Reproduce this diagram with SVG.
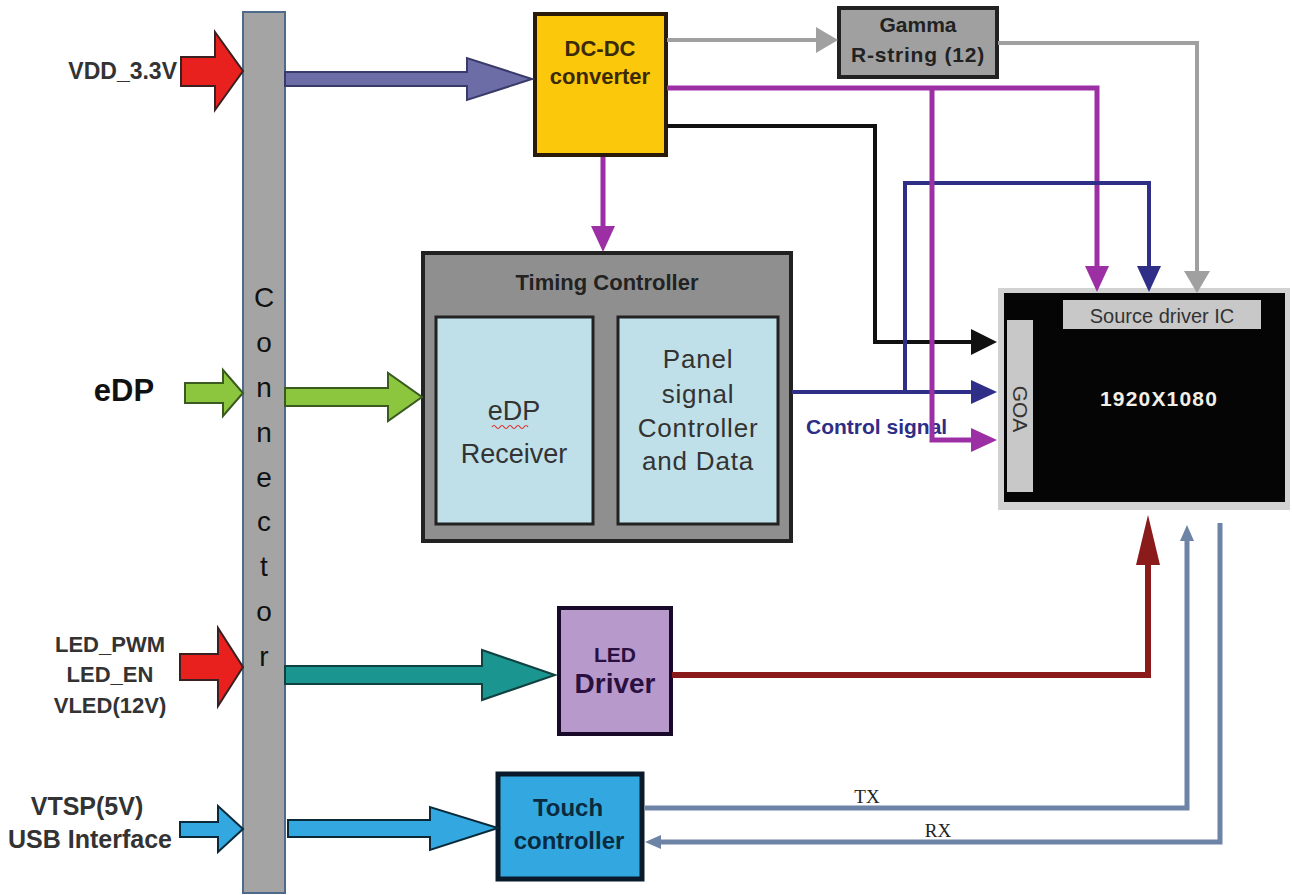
<svg xmlns="http://www.w3.org/2000/svg" width="1292" height="895" viewBox="0 0 1292 895">
<style>
text{font-family:"Liberation Sans",Arial,sans-serif}
.lbl{font-weight:bold;fill:#333;text-anchor:end}
.ctr{text-anchor:middle}
.b{font-weight:bold}
.conn{font-size:28px;fill:#111;text-anchor:middle}
.ln{fill:none;stroke-linejoin:miter}
.blk{stroke-width:2;stroke-linejoin:miter}
.serif{font-family:"Liberation Serif","Times New Roman",serif}
</style>
<defs>
<marker id="aGray" markerUnits="userSpaceOnUse" markerWidth="24" markerHeight="28" refX="2" refY="13" orient="auto"><path d="M0,0 L22,13 L0,26 z" fill="#a0a0a0"/></marker>
<marker id="aPurple" markerUnits="userSpaceOnUse" markerWidth="28" markerHeight="26" refX="2" refY="12" orient="auto"><path d="M0,0 L26,12 L0,24 z" fill="#9d2fa5"/></marker>
<marker id="aBlue" markerUnits="userSpaceOnUse" markerWidth="28" markerHeight="26" refX="2" refY="12" orient="auto"><path d="M0,0 L26,12 L0,24 z" fill="#2f2f88"/></marker>
<marker id="aBlack" markerUnits="userSpaceOnUse" markerWidth="28" markerHeight="28" refX="2" refY="13" orient="auto"><path d="M0,0 L26,13 L0,26 z" fill="#111"/></marker>
<marker id="aRed" markerUnits="userSpaceOnUse" markerWidth="52" markerHeight="26" refX="2" refY="12" orient="auto"><path d="M0,0 L50,12 L0,24 z" fill="#8b1a1a"/></marker>
<marker id="aSteel" markerUnits="userSpaceOnUse" markerWidth="18" markerHeight="16" refX="2" refY="7" orient="auto"><path d="M0,0 L16,7 L0,14 z" fill="#6d84a6"/></marker>
</defs>
<rect width="1292" height="895" fill="#fff"/>

<g id="connector">
<rect x="243" y="12" width="42" height="881" fill="#a4a4a4" stroke="#4d6a8c" stroke-width="2"/>
<text class="conn" x="264" y="307">C</text>
<text class="conn" x="264" y="352">o</text>
<text class="conn" x="264" y="397">n</text>
<text class="conn" x="264" y="442">n</text>
<text class="conn" x="264" y="487">e</text>
<text class="conn" x="264" y="531">c</text>
<text class="conn" x="264" y="576">t</text>
<text class="conn" x="264" y="621">o</text>
<text class="conn" x="264" y="666">r</text>
</g>

<g id="inputs">
<text class="lbl" x="177" y="79" font-size="23">VDD_3.3V</text>
<text class="b" x="124" y="401" font-size="31" fill="#111" text-anchor="middle">eDP</text>
<text class="b" x="110" y="652" font-size="22" fill="#333" text-anchor="middle">LED_PWM</text>
<text class="b" x="110" y="682" font-size="22" fill="#333" text-anchor="middle">LED_EN</text>
<text class="b" x="110" y="713" font-size="22" fill="#333" text-anchor="middle">VLED(12V)</text>
<text class="b" x="87" y="815" font-size="25" fill="#333" text-anchor="middle">VTSP(5V)</text>
<text class="b" x="90" y="848" font-size="25" fill="#333" text-anchor="middle">USB Interface</text>
</g>

<g id="dcdc">
<rect x="535" y="14" width="131" height="141" fill="#fcc80c" stroke="#2a1a0a" stroke-width="4"/>
<text class="b ctr" x="600" y="56" font-size="22" fill="#3a2a08">DC-DC</text>
<text class="b ctr" x="600" y="84" font-size="22" fill="#3a2a08">converter</text>
</g>

<g id="gamma">
<rect x="839" y="8" width="158" height="69" fill="#a0a0a0" stroke="#222" stroke-width="4"/>
<text class="b ctr" x="918" y="32" font-size="21" fill="#222">Gamma</text>
<text class="b ctr" x="918" y="62" font-size="21" fill="#222" letter-spacing="0.8">R-string (12)</text>
</g>

<g id="timing">
<rect x="423" y="253" width="368" height="288" fill="#8f8f8f" stroke="#222" stroke-width="4"/>
<text class="b ctr" x="607" y="290" font-size="22" fill="#222">Timing Controller</text>
</g>

<g id="edp-receiver">
<rect x="436" y="317" width="157" height="207" fill="#bfe0e8" stroke="#222" stroke-width="3"/>
<text class="ctr" x="514" y="420" font-size="27" fill="#333">eDP</text>
<path d="M492,427 q2,-3 4,0 t4,0 t4,0 t4,0 t4,0 t4,0 t4,0 t4,0 t4,0" fill="none" stroke="#e03030" stroke-width="1.2"/>
<text class="ctr" x="514" y="463" font-size="27" fill="#333">Receiver</text>
</g>

<g id="panel-signal">
<rect x="618" y="317" width="160" height="207" fill="#bfe0e8" stroke="#222" stroke-width="3"/>
<text class="ctr" x="698" y="368" font-size="26" fill="#333" letter-spacing="0.8">Panel</text>
<text class="ctr" x="698" y="403" font-size="26" fill="#333" letter-spacing="0.8">signal</text>
<text class="ctr" x="698" y="437" font-size="26" fill="#333" letter-spacing="0.8">Controller</text>
<text class="ctr" x="698" y="470" font-size="26" fill="#333" letter-spacing="0.8">and Data</text>
</g>

<g id="panel">
<rect x="998" y="288" width="292" height="222" fill="#d2d2d2"/>
<rect x="1004" y="293" width="281" height="209" fill="#050505"/>
<rect x="1063" y="300" width="198" height="29" fill="#c8c8c8"/>
<text class="ctr" x="1162" y="323" font-size="20" fill="#333">Source driver IC</text>
<rect x="1007" y="320" width="26" height="172" fill="#c8c8c8"/>
<text class="ctr" x="1020" y="409" font-size="21" fill="#333" transform="rotate(90 1020 409)" dy="7">GOA</text>
<text class="b ctr" x="1159" y="406" font-size="21" fill="#f2efe6" letter-spacing="1.2">1920X1080</text>
</g>

<g id="led-driver">
<rect x="559" y="608" width="112" height="126" fill="#b899cc" stroke="#1a0a2a" stroke-width="4"/>
<text class="b ctr" x="615" y="662" font-size="21" fill="#2a1040">LED</text>
<text class="b ctr" x="615" y="693" font-size="28" fill="#2a1040">Driver</text>
</g>

<g id="touch">
<rect x="498" y="774" width="144" height="105" fill="#33a8e0" stroke="#0a1a2a" stroke-width="5"/>
<text class="b ctr" x="568" y="816" font-size="24" fill="#0a2a40">Touch</text>
<text class="b ctr" x="569" y="849" font-size="24" fill="#0a2a40">controller</text>
</g>

<g id="connectors">
<polygon class="blk" points="181,57 215,57 215,32 243,71 215,110 215,86 181,86" fill="#e8201e" stroke="#3a2020"/>
<polygon class="blk" points="285,72 467,72 467,58 532,79 467,100 467,86 285,86" fill="#6c6ca6" stroke="#3a3a6a"/>
<polygon class="blk" points="185,383 223,383 223,370 243,393 223,416 223,403 185,403" fill="#8cc63f" stroke="#3a5a20"/>
<polygon class="blk" points="285,388 388,388 388,373 422,397 388,421 388,406 285,406" fill="#8cc63f" stroke="#3a5a20"/>
<polygon class="blk" points="180,654 218,654 218,628 243,667 218,706 218,680 180,680" fill="#e8201e" stroke="#3a2020"/>
<polygon class="blk" points="285,666 482,666 482,650 555,675 482,700 482,684 285,684" fill="#1a9590" stroke="#104040"/>
<polygon class="blk" points="180,822 218,822 218,806 243,829 218,852 218,837 180,837" fill="#33a8e0" stroke="#0a2a3a"/>
<polygon class="blk" points="288,820 430,820 430,807 498,828 430,850 430,837 288,837" fill="#33a8e0" stroke="#0a2a3a" stroke-width="3"/>

<path class="ln" d="M667,40 H818" stroke="#a0a0a0" stroke-width="4" marker-end="url(#aGray)"/>
<path class="ln" d="M998,43 H1197 V273" stroke="#a0a0a0" stroke-width="4" marker-end="url(#aGray)"/>
<path class="ln" d="M667,88 H1097 V268" stroke="#9d2fa5" stroke-width="5" marker-end="url(#aPurple)"/>
<path class="ln" d="M603,157 V228" stroke="#9d2fa5" stroke-width="5" marker-end="url(#aPurple)"/>
<path class="ln" d="M667,126 H875 V342 H973" stroke="#111" stroke-width="4" marker-end="url(#aBlack)"/>
<path class="ln" d="M792,392 H973" stroke="#2f2f88" stroke-width="4" marker-end="url(#aBlue)"/>
<path class="ln" d="M905,392 V183 H1149 V268" stroke="#2f2f88" stroke-width="4" marker-end="url(#aBlue)"/>
<text x="806" y="434" font-size="21" class="b" fill="#2e2e86">Control signal</text>
<path class="ln" d="M932,88 V440 H973" stroke="#9d2fa5" stroke-width="5" marker-end="url(#aPurple)"/>
<path class="ln" d="M672,675 H1148 V563" stroke="#8b1a1a" stroke-width="6" marker-end="url(#aRed)"/>
<path class="ln" d="M645,808 H1187 V539" stroke="#6d84a6" stroke-width="5" marker-end="url(#aSteel)"/>
<path class="ln" d="M1220,523 V842 H659" stroke="#6d84a6" stroke-width="5" marker-end="url(#aSteel)"/>
<text class="serif" x="867" y="803" font-size="19" fill="#222" text-anchor="middle">TX</text>
<text class="serif" x="938" y="837" font-size="19" fill="#222" text-anchor="middle">RX</text>
</g>
</svg>
